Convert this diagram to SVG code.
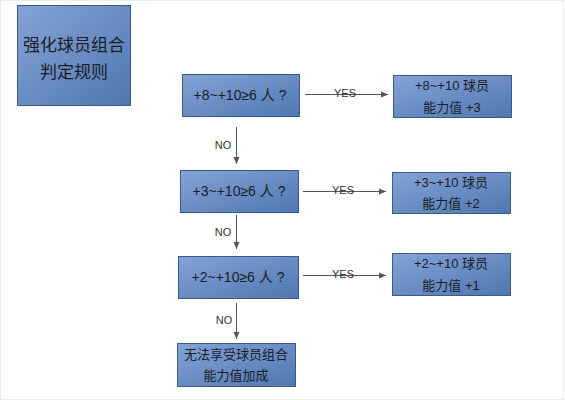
<svg xmlns="http://www.w3.org/2000/svg" width="565" height="400" viewBox="0 0 565 400">
<defs>
<linearGradient id="g" x1="0" y1="0" x2="1" y2="1">
<stop offset="0" stop-color="#84a3d6"/>
<stop offset="1" stop-color="#4f77b1"/>
</linearGradient>
<marker id="ah" markerWidth="8" markerHeight="8" refX="7" refY="4" orient="auto" markerUnits="userSpaceOnUse">
<path d="M0,1 L7,4 L0,7 Z" fill="#555"/>
</marker>
</defs>
<style>
.box{fill:url(#g);stroke:#3c5a86;stroke-width:1}
.t{font-family:"Liberation Sans","Noto Sans CJK SC",sans-serif;fill:#1c1c28;text-anchor:middle}
.m{font-size:13px}
.q{font-size:14px}
.big{font-size:17px}
.lbl{font-family:"Liberation Sans",sans-serif;font-size:11px;fill:#333;text-anchor:middle}
.c{stroke:#555;stroke-width:1;fill:none;marker-end:url(#ah)}
</style>
<rect x="0" y="0" width="565" height="400" fill="#fff"/>
<rect x="0.5" y="0.5" width="563" height="399" fill="none" stroke="#e8edf5"/>
<g id="title">
<rect class="box" x="17.5" y="5.5" width="113" height="100"/>
<text class="t big" x="74" y="51">强化球员组合</text>
<text class="t big" x="74" y="78">判定规则</text>
</g>
<g id="q1">
<rect class="box" x="182.5" y="74.5" width="117" height="42"/>
<text class="t q" x="240" y="100">+8~+10≥6 人 ?</text>
</g>
<g id="r1">
<rect class="box" x="393.5" y="75.5" width="118" height="42"/>
<text class="t m" x="452" y="90">+8~+10 球员</text>
<text class="t m" x="452" y="112">能力值 +3</text>
</g>
<g id="q2">
<rect class="box" x="180.5" y="170.5" width="118" height="42"/>
<text class="t q" x="239" y="196">+3~+10≥6 人 ?</text>
</g>
<g id="r2">
<rect class="box" x="392.5" y="172.5" width="118" height="41"/>
<text class="t m" x="451" y="187">+3~+10 球员</text>
<text class="t m" x="451" y="208">能力值 +2</text>
</g>
<g id="q3">
<rect class="box" x="178.5" y="256.5" width="120" height="42"/>
<text class="t q" x="238" y="282">+2~+10≥6 人 ?</text>
</g>
<g id="r3">
<rect class="box" x="392.5" y="253.5" width="118" height="42"/>
<text class="t m" x="451" y="268">+2~+10 球员</text>
<text class="t m" x="451" y="290">能力值 +1</text>
</g>
<g id="end">
<rect class="box" x="177.5" y="343.5" width="118" height="43"/>
<text class="t m" x="236" y="359">无法享受球员组合</text>
<text class="t m" x="236" y="380">能力值加成</text>
</g>
<g id="connectors">
<line class="c" x1="305" y1="94.5" x2="388" y2="94.5"/>
<text class="lbl" x="345" y="97">YES</text>
<line class="c" x1="303" y1="191.5" x2="386" y2="191.5"/>
<text class="lbl" x="343" y="194">YES</text>
<line class="c" x1="303" y1="275.5" x2="386" y2="275.5"/>
<text class="lbl" x="343" y="278">YES</text>
<line class="c" x1="236.5" y1="127" x2="236.5" y2="164"/>
<text class="lbl" x="223" y="149">NO</text>
<line class="c" x1="236.5" y1="215" x2="236.5" y2="249"/>
<text class="lbl" x="223" y="236">NO</text>
<line class="c" x1="236.5" y1="303" x2="236.5" y2="339"/>
<text class="lbl" x="224" y="324">NO</text>
</g>
</svg>
